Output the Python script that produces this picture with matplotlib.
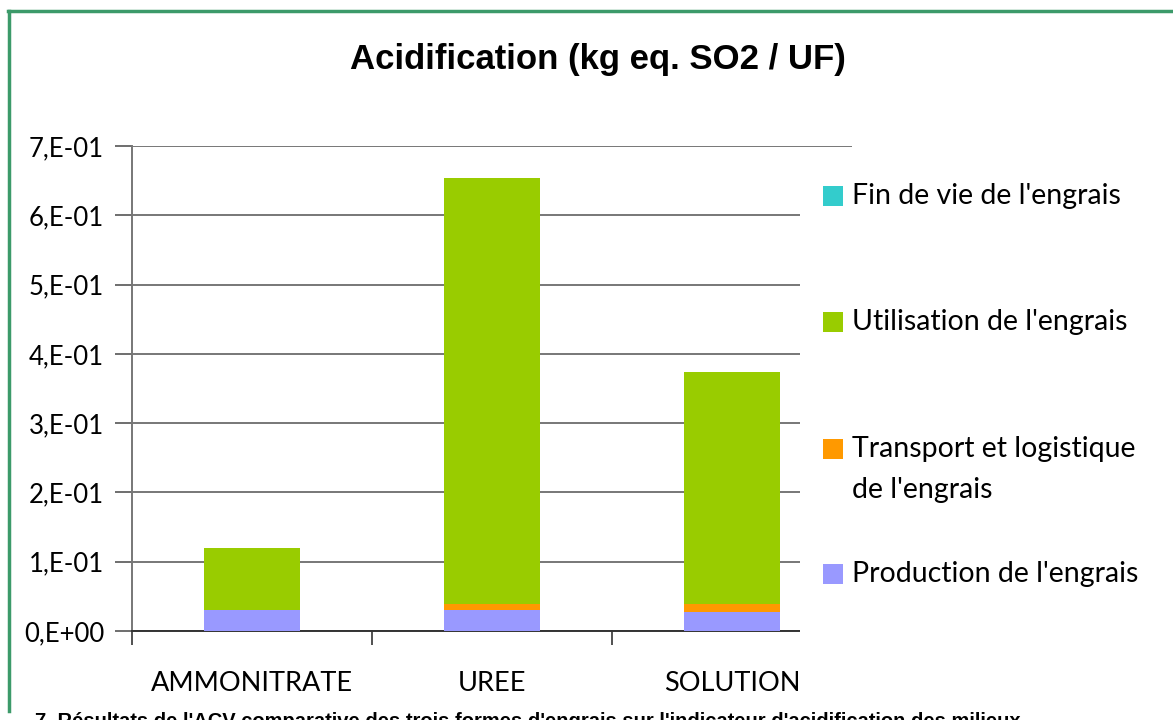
import matplotlib
matplotlib.use("Agg")
import matplotlib.pyplot as plt
from matplotlib.patches import Rectangle
from matplotlib.lines import Line2D
import numpy as np

# data (kg eq. SO2 / UF)
categories = ["AMMONITRATE", "UREE", "SOLUTION"]
production = [0.0303, 0.0303, 0.0279]
transport = [0.0, 0.0091, 0.0115]
utilisation = [0.0895, 0.6144, 0.3344]
fin_de_vie = [0.0, 0.0, 0.0]

yticks = [0.0, 0.1, 0.2, 0.3, 0.4, 0.5, 0.6, 0.7]
ytick_labels = ["0,E+00", "1,E-01", "2,E-01", "3,E-01", "4,E-01", "5,E-01", "6,E-01", "7,E-01"]

series_labels = ["Production de l'engrais", "Transport et logistique\nde l'engrais",
                 "Utilisation de l'engrais", "Fin de vie de l'engrais"]
series_colors = ["#9999FF", "#FF9900", "#99CC00", "#33CCCC"]

W, H = 1173, 720
fig = plt.figure(figsize=(W / 100, H / 100), dpi=100)
fig.patch.set_facecolor("white")

def fx(px):
    return px / W

def fy(py):
    return 1 - py / H

ax = fig.add_axes([fx(132), fy(631), fx(852) - fx(132), fy(146) - fy(631)])

x = np.arange(len(categories))
bottom = np.zeros(len(categories))
for vals, col in zip([production, transport, utilisation, fin_de_vie], series_colors):
    ax.bar(x, vals, width=0.4, bottom=bottom, color=col, zorder=3, linewidth=0)
    bottom += np.array(vals)

ax.set_xlim(-0.5, len(categories) - 0.5)
ax.set_ylim(0, 0.7)
ax.set_yticks(yticks)
ax.set_yticklabels(ytick_labels)
ax.yaxis.grid(True, color="#777777", linewidth=1.4, zorder=1)
ax.set_axisbelow(True)

# category labels between boundary ticks
ax.set_xticks(x)
ax.set_xticklabels(categories)
ax.set_xticks(np.arange(len(categories) + 1) - 0.5, minor=True)
ax.tick_params(axis="x", which="major", length=0, pad=29)
ax.tick_params(axis="x", which="minor", length=10, width=1.2, color="#333333")
ax.tick_params(axis="y", length=12, width=1.2, color="#555555", pad=8)
for lab in ax.get_yticklabels():
    lab.set_fontfamily("Lato")
    lab.set_fontsize(18.5)
for lab in ax.get_xticklabels():
    lab.set_fontfamily("Lato")
    lab.set_fontsize(19.5)

for side in ["top", "right"]:
    ax.spines[side].set_visible(False)
ax.spines["left"].set_color("#777777")
ax.spines["left"].set_linewidth(1.4)
ax.spines["bottom"].set_color("#333333")
ax.spines["bottom"].set_linewidth(1.4)

# title
fig.text(fx(598), fy(60), "Acidification (kg eq. SO2 / UF)", ha="center", va="center",
         fontsize=25, fontweight="bold", fontfamily="Liberation Sans")

# legend area (white box covering gridline ends), entries top to bottom
fig.patches.append(Rectangle((fx(800), fy(645)), fx(1173) - fx(800), fy(160) - fy(645),
                             transform=fig.transFigure, facecolor="white", edgecolor="none", zorder=5))
legend_y = [196, 322, 449, 574]
for i, (lab, col) in enumerate(zip(series_labels[::-1], series_colors[::-1])):
    cy = legend_y[i]
    fig.patches.append(Rectangle((fx(823), fy(cy + 10)), fx(20), 20 / H,
                                 transform=fig.transFigure, facecolor=col, edgecolor="none", zorder=6))
    for j, line in enumerate(lab.split("\n")):
        fig.text(fx(852), fy(cy + 41 * j), line, ha="left", va="center",
                 fontsize=20.5, fontfamily="Lato", zorder=7)

# green frame, cut by the image edges
frame_col = "#3C9A6A"
fig.add_artist(Line2D([fx(8), 1.0], [fy(11), fy(11)], transform=fig.transFigure,
                      color=frame_col, linewidth=2.5))
fig.add_artist(Line2D([fx(9), fx(9)], [fy(11), fy(711)], transform=fig.transFigure,
                      color=frame_col, linewidth=2.5))

# caption below the frame, mostly cut off as in the source
fig.text(fx(35), fy(712), "7. Résultats de l'ACV comparative des trois formes d'engrais sur l'indicateur d'acidification des milieux",
         ha="left", va="top", fontsize=14.5, fontweight="bold", fontfamily="Liberation Sans")

fig.savefig("out.png", dpi=100)
